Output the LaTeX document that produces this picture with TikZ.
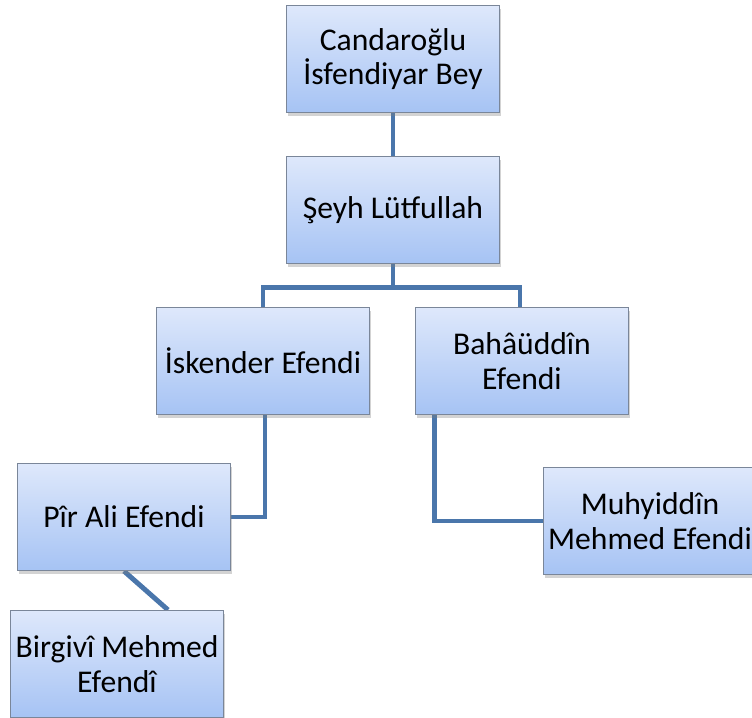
\documentclass[tikz,border=0pt]{standalone}
\usepackage{xcolor}
\usepackage{tikz}
\usepackage{fontspec}
\setmainfont{Carlito}
\usetikzlibrary{positioning, shadows, backgrounds}
\definecolor{linkblue}{HTML}{4A76AB}
\definecolor{boxtop}{HTML}{DEE8FB}
\definecolor{boxbottom}{HTML}{A6C3F4}
\definecolor{boxedge}{HTML}{7A8699}

\begin{document}
\begin{tikzpicture}[x=0.02cm, y=-0.02cm,
    person/.style={rectangle, draw=boxedge, line width=0.7pt, top color=boxtop, bottom color=boxbottom,
      minimum width=4.26cm, minimum height=2.14cm, align=center, inner sep=1pt,
      font=\fontsize{18}{19.5}\selectfont,
      drop shadow={shadow xshift=1pt, shadow yshift=-2pt, opacity=0.35}},
    link/.style={linkblue, line width=2.8pt}]
    \useasboundingbox (0,0) rectangle (752,718);
    % Boxes of the lineage
    \node[person] (candar) at (393,59) {Candaroğlu\\İsfendiyar Bey};
    \node[person] (seyh) at (393,210) {Şeyh Lütfullah};
    \node[person] (iskender) at (263,361) {İskender Efendi};
    \node[person] (bahaeddin) at (522,361) {Bahâüddîn\\Efendi};
    \node[person] (pirali) at (124,517) {Pîr Ali Efendi};
    \node[person] (muhyiddin) at (650,521) {Muhyiddîn\\Mehmed Efendi};
    \node[person] (birgivi) at (117,664) {Birgivî Mehmed\\Efendî};
    % Connectors behind the boxes
    \begin{scope}[on background layer]
      \draw[link] (candar.south) -- (seyh.north);
      \draw[link] (seyh.south) -- ++(0,23) -| (iskender.north);
      \draw[link] (seyh.south) -- ++(0,23) -| ([xshift=-0.04cm]bahaeddin.north);
      \draw[link] ([xshift=0.04cm]iskender.south) |- (pirali.east);
      \draw[link] ([xshift=0.4cm]bahaeddin.south west) |- (muhyiddin.west);
      \draw[link] (pirali.south) -- ([xshift=1.02cm]birgivi.north);
    \end{scope}
  \end{tikzpicture}
\end{document}
